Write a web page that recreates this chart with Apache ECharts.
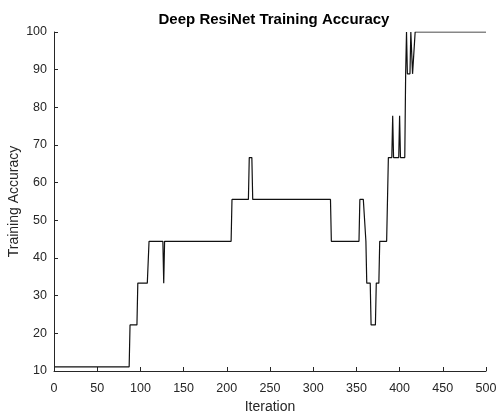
<!DOCTYPE html>
<html>
<head>
<meta charset="utf-8">
<script src="https://cdn.jsdelivr.net/npm/echarts@6/dist/echarts.min.js"></script>
<style>
  html, body { margin: 0; padding: 0; background: #fff; }
  #main { width: 496px; height: 414px; }
</style>
</head>
<body>
<div id="main"></div>
<script>
// corner points of the accuracy trace
var iterations = [1, 87, 88, 96, 97, 108, 110, 126, 127, 128, 205, 206, 225, 226, 229, 230,
  320, 321, 353, 354, 358, 359, 361, 362, 366, 367, 372, 373, 376, 377, 385, 386, 387,
  391, 392, 393, 399, 400, 401, 406, 407, 408, 409, 412, 413, 414, 415, 417, 418, 500];
var accuracy = [11.11, 11.11, 22.22, 22.22, 33.33, 33.33, 44.44, 44.44, 33.33, 44.44, 44.44, 55.56, 55.56, 66.67, 66.67, 55.56,
  55.56, 44.44, 44.44, 55.56, 55.56, 55.56, 44.44, 33.33, 33.33, 22.22, 22.22, 33.33, 33.33, 44.44, 44.44, 44.44, 66.67,
  66.67, 77.78, 66.67, 66.67, 77.78, 66.67, 66.67, 88.89, 100, 88.89, 88.89, 100, 100, 88.89, 88.89, 100, 100];

var xTicks = { min: 0, max: 500, step: 50 };
var yTicks = { min: 10, max: 100, step: 10 };

var points = iterations.map(function (it, i) { return [it, accuracy[i]]; });

var myChart = echarts.init(document.getElementById('main'));

var axisGray = '#262626';

var option = {
    animation: false,
    title: {
        text: 'Deep ResiNet Training Accuracy',
        left: 269,
        textAlign: 'center',
        top: 7,
        textStyle: { fontFamily: 'Liberation Sans', fontSize: 15, fontWeight: 'bold', color: '#000' }
    },
    grid: { left: 54, right: 10, top: 32, bottom: 43, outerBoundsMode: 'none', containLabel: false },
    xAxis: {
        type: 'value',
        min: xTicks.min, max: xTicks.max, interval: xTicks.step,
        name: 'Iteration',
        nameLocation: 'middle',
        nameGap: 29,
        nameMoveOverlap: false,
        nameTextStyle: { fontFamily: 'Liberation Sans', fontSize: 14, color: axisGray },
        axisLine: { show: true, onZero: false, lineStyle: { color: axisGray, width: 1 } },
        axisTick: { show: true, inside: true, length: 4, lineStyle: { color: axisGray } },
        axisLabel: { margin: 11, fontFamily: 'Liberation Sans', fontSize: 12.5, color: axisGray },
        splitLine: { show: false }
    },
    yAxis: {
        type: 'value',
        min: yTicks.min, max: yTicks.max, interval: yTicks.step,
        name: 'Training Accuracy',
        nameLocation: 'middle',
        nameGap: 33,
        nameMoveOverlap: false,
        nameTextStyle: { fontFamily: 'Liberation Sans', fontSize: 14, color: axisGray },
        axisLine: { show: true, onZero: false, lineStyle: { color: axisGray, width: 1 } },
        axisTick: { show: true, inside: true, length: 4, lineStyle: { color: axisGray } },
        axisLabel: { margin: 7, fontFamily: 'Liberation Sans', fontSize: 12.5, color: axisGray },
        splitLine: { show: false }
    },
    series: [{
        type: 'line',
        data: points,
        showSymbol: false,
        symbol: 'none',
        lineStyle: { color: '#111', width: 1.2 }
    }]
};

myChart.setOption(option);
</script>
</body>
</html>
